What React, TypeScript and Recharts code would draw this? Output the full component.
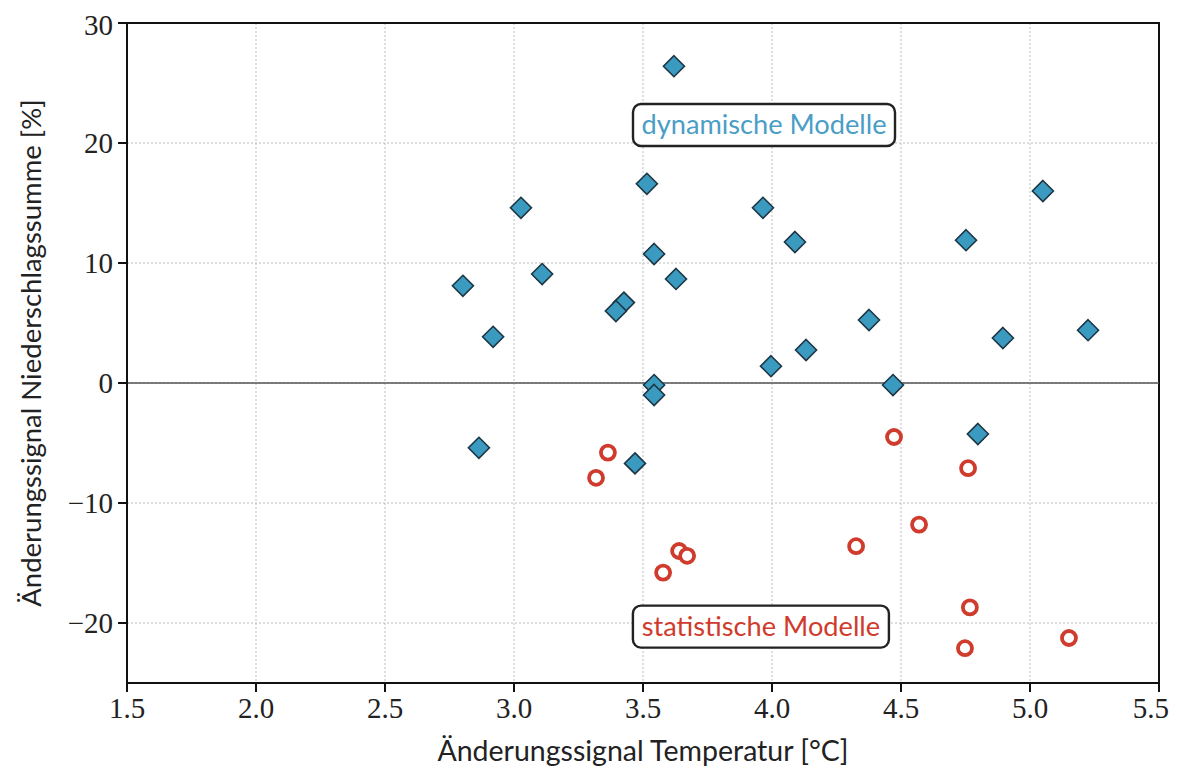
import React from 'react';
import {
  ScatterChart,
  Scatter,
  XAxis,
  YAxis,
  CartesianGrid,
  ReferenceLine,
  ReferenceArea,
  ReferenceDot,
  Label,
} from 'recharts';

// dynamische Modelle (blue diamonds)
const dynX = [3.62, 3.515, 3.027, 3.965, 5.05, 4.089, 4.752, 3.543, 3.109, 3.628, 2.802, 3.426, 3.395, 2.919, 4.376, 4.132, 4.895, 5.225, 3.996, 4.469, 3.543, 3.543, 2.864, 3.469, 4.798];
const dynY = [26.4, 16.6, 14.6, 14.6, 16.0, 11.75, 11.9, 10.75, 9.08, 8.67, 8.1, 6.7, 6.0, 3.85, 5.25, 2.75, 3.75, 4.4, 1.4, -0.17, -0.17, -1.0, -5.4, -6.7, -4.25];

// statistische Modelle (red circles)
const statX = [3.364, 3.318, 3.64, 3.671, 3.578, 4.473, 4.76, 4.57, 4.326, 4.767, 4.748, 5.151];
const statY = [-5.8, -7.9, -14.0, -14.4, -15.8, -4.5, -7.1, -11.8, -13.6, -18.7, -22.1, -21.25];

const xTicks = [1.5, 2.0, 2.5, 3.0, 3.5, 4.0, 4.5, 5.0, 5.5];
const yTicks = [-20, -10, 0, 10, 20, 30];

const labelDyn = { x: 3.969, y: 21.5, text: 'dynamische Modelle' };
const labelStat = { x: 3.957, y: -20.3, text: 'statistische Modelle' };

const dynData = dynX.map((x, i) => ({ x, y: dynY[i] }));
const statData = statX.map((x, i) => ({ x, y: statY[i] }));

const BLUE_FILL = '#3b9ac0';
const BLUE_TEXT = '#4a9ec6';
const RED = '#cf3b2c';
const SERIF = '"Liberation Serif", "DejaVu Serif", serif';
const SANS = 'Lato, "Open Sans", sans-serif';

const Diamond = (props: any) => {
  const { cx, cy } = props;
  const s = 10.5;
  return (
    <polygon
      points={`${cx},${cy - s} ${cx + s},${cy} ${cx},${cy + s} ${cx - s},${cy}`}
      fill={BLUE_FILL}
      stroke="#1d3644"
      strokeWidth={1.6}
    />
  );
};

const Ring = (props: any) => {
  const { cx, cy } = props;
  return <circle cx={cx} cy={cy} r={7} fill="#fff" stroke={RED} strokeWidth={3.8} />;
};

const makeBox = (text: string, color: string, w: number) => (props: any) => {
  const { cx, cy } = props;
  const h = 42;
  return (
    <g>
      <rect x={cx - w / 2} y={cy - h / 2} width={w} height={h} rx={8} ry={8} fill="#fff" stroke="#222" strokeWidth={2.4} />
      <text x={cx} y={cy + 9} textAnchor="middle" fill={color} fontFamily={SANS} fontSize={27.2}>
        {text}
      </text>
    </g>
  );
};

const fmtX = (v: number) => v.toFixed(1);
const fmtY = (v: number) => (v < 0 ? `\u2212${Math.abs(v)}` : `${v}`);

export default function App() {
  return (
    <div style={{ width: 1161, height: 764, overflow: 'visible' }}>
      <style>{`svg.recharts-surface { overflow: visible; }`}</style>
      <ScatterChart width={1161} height={764} margin={{ top: 15, right: 10, bottom: 0, left: 0 }}>
        <CartesianGrid stroke="#bdbdbd" strokeDasharray="2 2" strokeWidth={1} />
        <XAxis
          type="number"
          dataKey="x"
          domain={[1.5, 5.5]}
          ticks={xTicks}
          tickFormatter={fmtX}
          height={89}
          stroke="#111"
          strokeWidth={2}
          tickSize={9}
          tickMargin={5}
          tick={{ fill: '#222', fontFamily: SERIF, fontSize: 29 }}
          allowDataOverflow
        >
          <Label
            content={(p: any) => {
              const vb = p.viewBox;
              return (
                <text x={vb.x + vb.width / 2} y={vb.y + 78} textAnchor="middle" fill="#222" fontFamily={SANS} fontSize={28.5}>
                  Änderungssignal Temperatur [°C]
                </text>
              );
            }}
          />
        </XAxis>
        <YAxis
          type="number"
          dataKey="y"
          domain={[-25, 30]}
          ticks={yTicks}
          tickFormatter={fmtY}
          width={119}
          stroke="#111"
          strokeWidth={2}
          tickSize={9}
          tickMargin={5}
          tick={{ fill: '#222', fontFamily: SERIF, fontSize: 29 }}
          allowDataOverflow
        >
          <Label
            content={(p: any) => {
              const vb = p.viewBox;
              const cx = 22;
              const cy = vb.y + vb.height / 2;
              return (
                <text x={cx} y={cy} transform={`rotate(-90 ${cx} ${cy})`} textAnchor="middle" dominantBaseline="central" fill="#222" fontFamily={SANS} fontSize={27.5}>
                  Änderungssignal Niederschlagssumme [%]
                </text>
              );
            }}
          />
        </YAxis>
        <ReferenceLine y={0} stroke="#555" strokeWidth={1.6} />
        <ReferenceArea x1={1.5} x2={5.5} y1={-25} y2={30} fill="none" stroke="#111" strokeWidth={2} />
        <Scatter data={dynData} shape={Diamond} isAnimationActive={false} />
        <Scatter data={statData} shape={Ring} isAnimationActive={false} />
        <ReferenceDot x={labelDyn.x} y={labelDyn.y} r={0} shape={makeBox(labelDyn.text, BLUE_TEXT, 262)} />
        <ReferenceDot x={labelStat.x} y={labelStat.y} r={0} shape={makeBox(labelStat.text, RED, 256)} />
      </ScatterChart>
    </div>
  );
}
